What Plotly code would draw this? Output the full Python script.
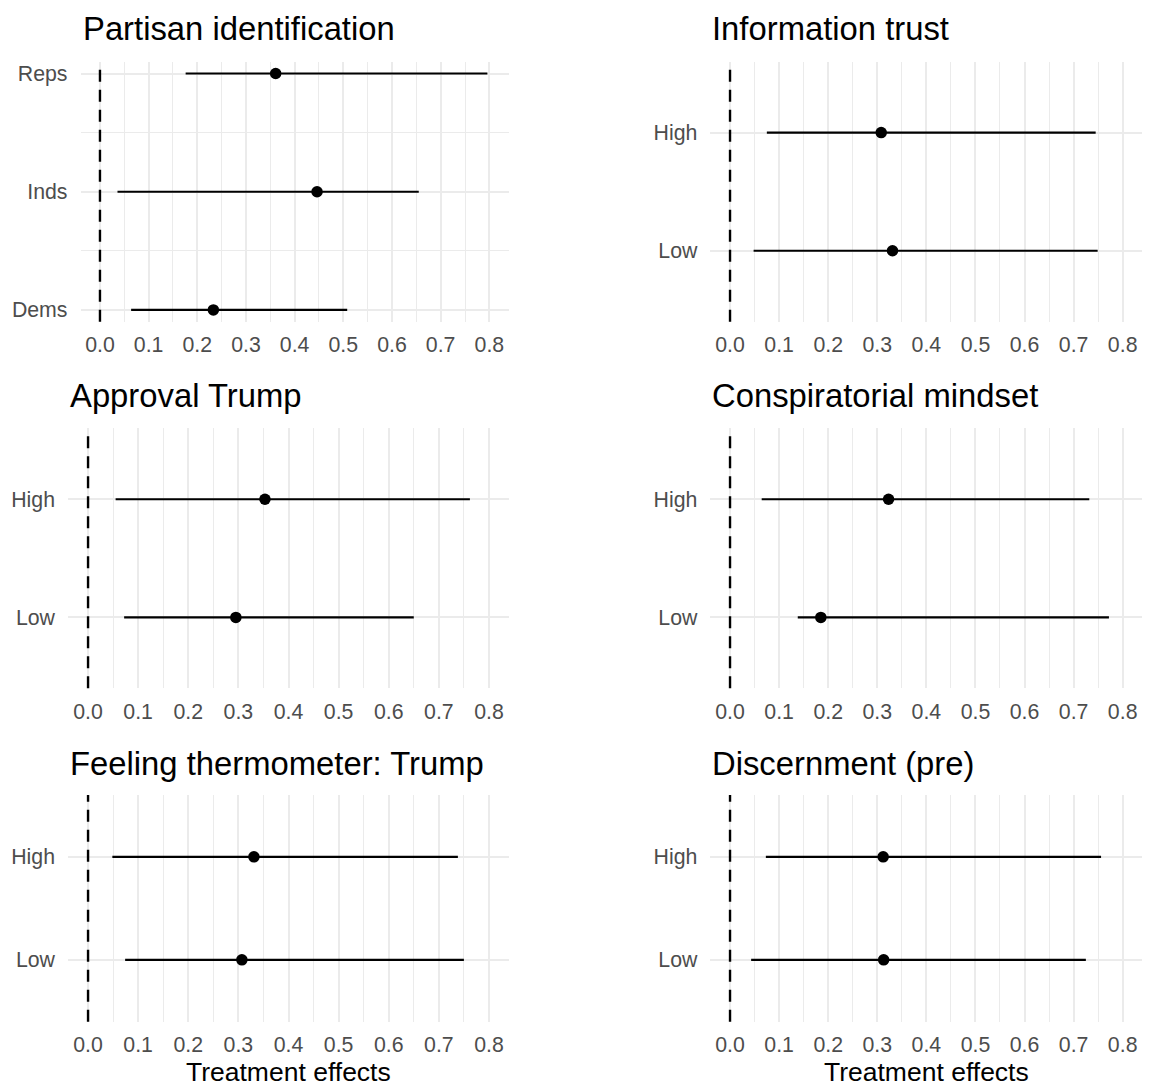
import plotly.graph_objects as go

# ---------------- data ----------------
titles = ["Partisan identification", "Information trust", "Approval Trump",
          "Conspiratorial mindset", "Feeling thermometer: Trump", "Discernment (pre)"]

party_cats = ["Dems", "Inds", "Reps"]
party_est = [0.233, 0.446, 0.361]
party_lo = [0.064, 0.036, 0.176]
party_hi = [0.508, 0.655, 0.796]

hl_cats = ["Low", "High"]

trust_est = [0.331, 0.308]
trust_lo = [0.048, 0.075]
trust_hi = [0.749, 0.745]

approval_est = [0.295, 0.353]
approval_lo = [0.072, 0.055]
approval_hi = [0.650, 0.762]

consp_est = [0.185, 0.323]
consp_lo = [0.138, 0.0645]
consp_hi = [0.772, 0.732]

thermo_est = [0.307, 0.331]
thermo_lo = [0.074, 0.0485]
thermo_hi = [0.750, 0.738]

discern_est = [0.313, 0.312]
discern_lo = [0.043, 0.073]
discern_hi = [0.725, 0.756]

x_ticks = [0.0, 0.1, 0.2, 0.3, 0.4, 0.5, 0.6, 0.7, 0.8]
x_ticklabels = ["0.0", "0.1", "0.2", "0.3", "0.4", "0.5", "0.6", "0.7", "0.8"]
x_label = "Treatment effects"

panels = [
    (titles[0], party_cats, party_est, party_lo, party_hi),
    (titles[1], hl_cats, trust_est, trust_lo, trust_hi),
    (titles[2], hl_cats, approval_est, approval_lo, approval_hi),
    (titles[3], hl_cats, consp_est, consp_lo, consp_hi),
    (titles[4], hl_cats, thermo_est, thermo_lo, thermo_hi),
    (titles[5], hl_cats, discern_est, discern_lo, discern_hi),
]

# ---------------- layout geometry (pixels) ----------------
W, H = 1153, 1086
x_doms_px = [(80.5, 508.8), (710.4, 1142.3), (68, 509), (710.4, 1142.3), (68, 509), (710.4, 1142.3)]
row_px = [(61.7, 321.7), (428.3, 688.3), (795, 1021.7)]
title_mid_px = [29, 396, 763.3]

FONT = "Liberation Sans, Arial, Helvetica, sans-serif"
GRID = "#EBEBEB"
TICKC = "#4D4D4D"

fig = go.Figure()
annotations = []
shapes = []

for i, (title, cats, est, lo, hi) in enumerate(panels):
    r = i // 2
    n = i + 1
    xa = "x" if n == 1 else f"x{n}"
    ya = "y" if n == 1 else f"y{n}"
    ypos = list(range(1, len(cats) + 1))
    plus = [h - e for h, e in zip(hi, est)]
    minus = [e - l for e, l in zip(est, lo)]
    fig.add_trace(go.Scatter(
        x=est, y=ypos, mode="markers", xaxis=xa, yaxis=ya,
        marker=dict(color="black", size=11.5),
        error_x=dict(type="data", symmetric=False, array=plus, arrayminus=minus,
                     width=0, thickness=2.1, color="black"),
        showlegend=False, hoverinfo="skip"))

    x0, x1 = x_doms_px[i]
    top, bot = row_px[r]
    xdom = [x0 / W, x1 / W]
    ydom = [1 - bot / H, 1 - top / H]

    xkey = "xaxis" if n == 1 else f"xaxis{n}"
    ykey = "yaxis" if n == 1 else f"yaxis{n}"
    fig.layout[xkey] = dict(
        domain=xdom, anchor=ya, range=[-0.04, 0.84],
        tickvals=x_ticks, ticktext=x_ticklabels,
        showgrid=True, gridcolor=GRID, gridwidth=1.7, zeroline=False,
        showline=False, ticks="", ticklabelstandoff=8,
        tickfont=dict(family=FONT, size=21.3, color=TICKC),
        minor=dict(tickvals=[0.05, 0.15, 0.25, 0.35, 0.45, 0.55, 0.65, 0.75],
                   showgrid=True, gridcolor=GRID, gridwidth=0.9),
        fixedrange=True)
    ycfg = dict(
        domain=ydom, anchor=xa,
        tickvals=ypos, ticktext=cats,
        showgrid=True, gridcolor=GRID, gridwidth=1.7, zeroline=False,
        showline=False, ticks="", ticklabelstandoff=12,
        tickfont=dict(family=FONT, size=21.3, color=TICKC),
        fixedrange=True)
    if len(cats) == 3:
        ycfg["range"] = [0.9, 3.1]
        ycfg["minor"] = dict(tickvals=[1.5, 2.5], showgrid=True, gridcolor=GRID, gridwidth=0.9)
    else:
        ycfg["range"] = [0.4, 2.6]
    fig.layout[ykey] = ycfg

    shapes.append(dict(type="line", xref=xa, yref=f"{ya} domain",
                       x0=0, x1=0, y0=0, y1=1,
                       line=dict(color="black", width=2.4, dash="12px,8px")))

    annotations.append(dict(text=title, x=x0 / W, xref="paper", xanchor="left",
                            y=1 - title_mid_px[r] / H, yref="paper", yanchor="middle",
                            showarrow=False, font=dict(family=FONT, size=32.8, color="black")))

for (x0, x1) in [x_doms_px[4], x_doms_px[5]]:
    annotations.append(dict(text=x_label, x=(x0 + x1) / 2 / W, xref="paper", xanchor="center",
                            y=1 - 1072 / H, yref="paper", yanchor="middle",
                            showarrow=False, font=dict(family=FONT, size=26.5, color="black")))

fig.update_layout(width=W, height=H, margin=dict(l=0, r=0, t=0, b=0),
                  paper_bgcolor="white", plot_bgcolor="white",
                  annotations=annotations, shapes=shapes,
                  font=dict(family=FONT))

fig.write_html("out.html", config={"displayModeBar": False},
               post_script="document.body.style.margin='0px';document.body.style.overflow='hidden';")
